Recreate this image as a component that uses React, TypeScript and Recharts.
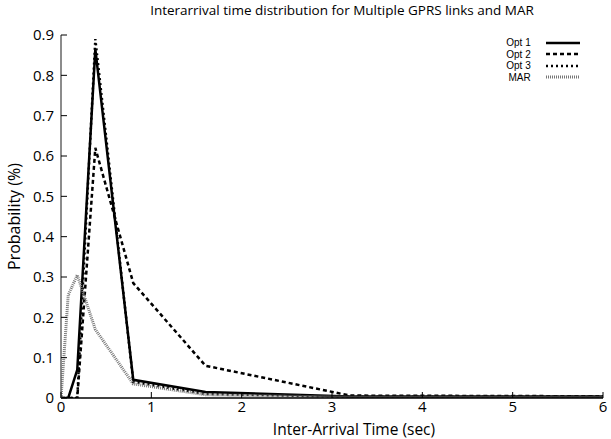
import React from "react";
import { LineChart, Line, XAxis, YAxis } from "recharts";

// sample points (sec) and probabilities
const times = [0, 0.08, 0.18, 0.38, 0.8, 1.6, 3.2, 6.4];
const opt1 = [0, 0, 0.07, 0.865, 0.045, 0.015, 0.004, 0.004];
const opt2 = [0, 0, 0, 0.62, 0.285, 0.08, 0.006, 0.004];
const opt3 = [0, 0, 0, 0.89, 0.04, 0.01, 0.003, 0.003];
const mar = [0, 0.255, 0.305, 0.17, 0.035, 0.008, 0.002, 0.002];

const xTicks = [0, 1, 2, 3, 4, 5, 6];
const yTicks = [0, 0.1, 0.2, 0.3, 0.4, 0.5, 0.6, 0.7, 0.8, 0.9];

const data = times.map((t, i) => ({
  t,
  opt1: opt1[i],
  opt2: opt2[i],
  opt3: opt3[i],
  mar: mar[i],
}));

const series = [
  { key: "opt1", name: "Opt 1", color: "#000", width: 2.5, dash: undefined as string | undefined },
  { key: "opt2", name: "Opt 2", color: "#000", width: 2.5, dash: "4 3" },
  { key: "opt3", name: "Opt 3", color: "#000", width: 2.5, dash: "2 3" },
  { key: "mar", name: "MAR", color: "#777", width: 3, dash: "1 1" },
];

const FONT = "'Open Sans', sans-serif";
const TICK = 6;

const BottomTick = (p: any) => {
  const axisY = p.y - 3;
  return (
    <g>
      <line x1={p.x} x2={p.x} y1={axisY} y2={axisY - TICK} stroke="#000" />
      <text x={p.x} y={p.y} dy="0.75em" textAnchor="middle" fontSize={15} fontFamily={FONT} fill="#000">
        {p.payload.value}
      </text>
    </g>
  );
};

const LeftTick = (p: any) => {
  const axisX = p.x + 7;
  return (
    <g>
      <line x1={axisX} x2={axisX + TICK} y1={p.y} y2={p.y} stroke="#000" />
      <text x={p.x} y={p.y} dy="0.35em" textAnchor="end" fontSize={15} fontFamily={FONT} fill="#000">
        {p.payload.value}
      </text>
    </g>
  );
};

const TopTick = (p: any) => (
  <line x1={p.x} x2={p.x} y1={p.y} y2={p.y + TICK} stroke="#000" />
);

const RightTick = (p: any) => (
  <line x1={p.x} x2={p.x - TICK} y1={p.y} y2={p.y} stroke="#000" />
);

export default function App() {
  return (
    <div style={{ position: "absolute", left: 0, top: 0, width: 611, height: 439, background: "#fff", fontFamily: FONT }}>
      <div style={{ position: "absolute", top: 1, left: 71, width: 542, textAlign: "center", fontSize: 13.5, lineHeight: "18px" }}>
        Interarrival time distribution for Multiple GPRS links and MAR
      </div>
      <LineChart width={611} height={439} data={data} margin={{ top: 35, right: 8, bottom: 0, left: 0 }}>
        <XAxis
          dataKey="t"
          type="number"
          domain={[0, 6]}
          ticks={xTicks}
          allowDataOverflow
          height={41}
          tickSize={0}
          tickMargin={3}
          tickLine={false}
          tick={<BottomTick />}
          axisLine={{ stroke: "#000", strokeWidth: 1.5 }}
          label={{ value: "Inter-Arrival Time (sec)", position: "insideBottom", offset: 4, dx: 22, fontSize: 15.5, fontFamily: FONT, fill: "#000" }}
        />
        <XAxis
          xAxisId="top"
          orientation="top"
          dataKey="t"
          type="number"
          domain={[0, 6]}
          ticks={xTicks}
          allowDataOverflow
          height={0}
          tickSize={0}
          tickMargin={0}
          tickLine={false}
          tick={<TopTick />}
          axisLine={{ stroke: "#666", strokeWidth: 1.5 }}
        />
        <YAxis
          type="number"
          domain={[0, 0.9]}
          ticks={yTicks}
          allowDataOverflow
          width={61}
          tickSize={0}
          tickMargin={7}
          tickLine={false}
          tick={<LeftTick />}
          axisLine={{ stroke: "#666", strokeWidth: 1.5 }}
          label={{ value: "Probability (%)", angle: -90, position: "insideLeft", offset: 14, fontSize: 16, fontFamily: FONT, fill: "#000", style: { textAnchor: "middle" } }}
        />
        <YAxis
          yAxisId="right"
          orientation="right"
          type="number"
          domain={[0, 0.9]}
          ticks={yTicks}
          width={0}
          tickSize={0}
          tickMargin={0}
          tickLine={false}
          tick={<RightTick />}
          axisLine={{ stroke: "#000", strokeWidth: 1.5 }}
        />
        {series.map((s) => (
          <Line
            key={s.key}
            dataKey={s.key}
            name={s.name}
            type="linear"
            stroke={s.color}
            strokeWidth={s.width}
            strokeDasharray={s.dash}
            dot={false}
            isAnimationActive={false}
          />
        ))}
      </LineChart>
      {/* legend, top right inside the frame */}
      <div style={{ position: "absolute", top: 37, left: 440, width: 150, fontFamily: "'Liberation Sans', sans-serif" }}>
        {series.map((s) => (
          <div key={s.key} style={{ display: "flex", alignItems: "center", height: 11.5 }}>
            <span style={{ width: 98, textAlign: "right", fontSize: 10, lineHeight: "11px" }}>{s.name}</span>
            <svg width={50} height={8} style={{ marginLeft: 13 }}>
              <line x1={2} x2={36} y1={4} y2={4} stroke={s.color} strokeWidth={s.width} strokeDasharray={s.dash} />
            </svg>
          </div>
        ))}
      </div>
    </div>
  );
}
